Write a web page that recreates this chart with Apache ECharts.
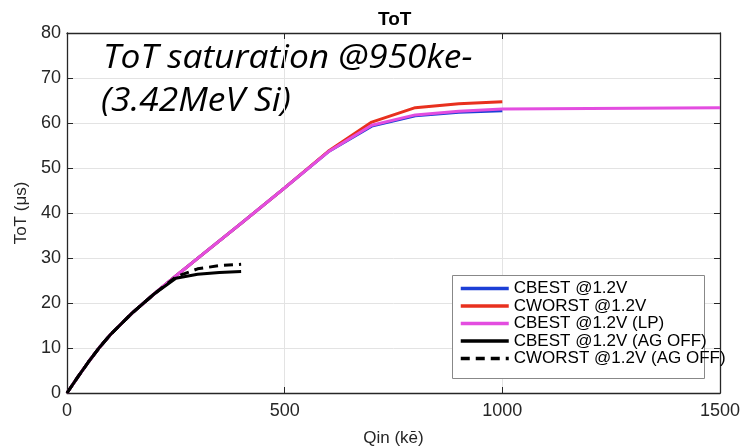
<!DOCTYPE html>
<html><head><meta charset="utf-8">
<script src="https://cdn.jsdelivr.net/npm/echarts@6/dist/echarts.min.js"></script>
<style>html,body{margin:0;padding:0;background:#fff}#c{width:745px;height:446px}</style>
</head><body><div id="c"></div>
<script>
const qinMain = [0,25,50,76,100,150,200,250,300,400,500,600,700,800,900,1000];
const cbest   = [0,3.6,7,10.3,13,17.8,22,26,29.9,37.7,45.6,53.6,59.3,61.6,62.4,62.7];
const cworst  = [0,3.6,7,10.3,13,17.8,22,26,29.9,37.7,45.6,53.7,60.2,63.4,64.3,64.7];
const qinLP   = [0,25,50,76,100,150,200,250,300,400,500,600,700,800,900,1000,1500];
const cbestLP = [0,3.6,7,10.3,13,17.8,22,26,29.9,37.7,45.6,53.6,59.5,61.8,62.6,63.1,63.4];
const qinAG   = [0,25,50,76,100,150,200,250,300,350,400];
const cbestAG = [0,3.6,7,10.3,13,17.8,22,25.5,26.4,26.8,27.0];
const cworstAG= [0,3.6,7,10.3,13,17.8,22,25.8,27.6,28.3,28.6];
const names = ['CBEST @1.2V','CWORST @1.2V','CBEST @1.2V (LP)','CBEST @1.2V (AG OFF)','CWORST @1.2V (AG OFF)'];
const xTicks = [0,500,1000,1500];
const yTicks = [0,10,20,30,40,50,60,70,80];

const zip = (xs, ys) => xs.map((x,i)=>[x,ys[i]]);
const chart = echarts.init(document.getElementById('c'));
const FONT = 'Liberation Sans, Arial';
const lineAx = {show:true,onZero:false,lineStyle:{color:'#262626',width:1.3}};
const tickAx = {show:true,inside:true,length:6,lineStyle:{color:'#262626'}};
function mkSeries(name, data, color, dashed){
  return {name, type:'line', data, symbol:'none', smooth:false,
    lineStyle:{color, width:3, type: dashed?[9,6]:'solid'}, itemStyle:{color}};
}
chart.setOption({
  animation:false,
  title:{text:'ToT', left:373, top:5,
    textStyle:{fontSize:19, fontWeight:'bold', color:'#000', fontFamily:FONT}},
  grid:{left:67, right:25, top:33, bottom:53, containLabel:false, outerBoundsMode:'none'},
  xAxis:[
    {type:'value', min:0, max:1500, interval:500, position:'bottom',
      name:'Qin (kē)', nameLocation:'middle', nameGap:37,
      nameTextStyle:{color:'#262626', fontSize:17, fontFamily:FONT},
      axisLine:lineAx, axisTick:tickAx,
      axisLabel:{margin:9, color:'#262626', fontSize:18, fontFamily:FONT, formatter:v=>xTicks.includes(v)?String(v):''},
      splitLine:{show:true,lineStyle:{color:'#e3e3e3',width:1}}},
    {type:'value', min:0, max:1500, interval:500, position:'top',
      axisLine:lineAx, axisTick:tickAx, axisLabel:{show:false}, splitLine:{show:false}}
  ],
  yAxis:[
    {type:'value', min:0, max:80, interval:10, position:'left',
      name:'ToT (μs)', nameLocation:'middle', nameGap:29,
      nameTextStyle:{color:'#262626', fontSize:17, fontFamily:FONT},
      axisLine:lineAx, axisTick:tickAx,
      axisLabel:{margin:6, color:'#262626', fontSize:18, fontFamily:FONT, formatter:v=>yTicks.includes(v)?String(v):''},
      splitLine:{show:true,lineStyle:{color:'#e3e3e3',width:1}}},
    {type:'value', min:0, max:80, interval:10, position:'right',
      axisLine:lineAx, axisTick:tickAx, axisLabel:{show:false}, splitLine:{show:false}}
  ],
  legend:{
    show:true, left:452, top:275, orient:'vertical', itemGap:0.5, itemWidth:48, itemHeight:14,
    padding:[5,0,0,7], backgroundColor:'transparent', borderWidth:0,
    itemStyle:{opacity:0},
    lineStyle:{width:3.5},
    textStyle:{color:'#000', fontSize:17, fontFamily:FONT},
    data:names
  },
  graphic:[
    {type:'rect', shape:{x:452.5, y:275.5, width:252, height:103}, z:1,
      style:{fill:'#fff', stroke:'#888', lineWidth:1}},
    {type:'text', left:103, top:42, scaleX:1.07, style:{text:'ToT saturation @950ke-', fontSize:33, fontStyle:'italic', fontFamily:'Open Sans', fill:'#000'}},
    {type:'text', left:101, top:85, scaleX:1.07, style:{text:'(3.42MeV Si)', fontSize:33, fontStyle:'italic', fontFamily:'Open Sans', fill:'#000'}}
  ],
  series:[
    mkSeries(names[0], zip(qinMain,cbest), '#1c3fd6'),
    mkSeries(names[1], zip(qinMain,cworst), '#e8301e'),
    mkSeries(names[2], zip(qinLP,cbestLP), '#e34de0'),
    mkSeries(names[3], zip(qinAG,cbestAG), '#000000'),
    mkSeries(names[4], zip(qinAG,cworstAG), '#000000', true)
  ]
});
</script></body></html>
